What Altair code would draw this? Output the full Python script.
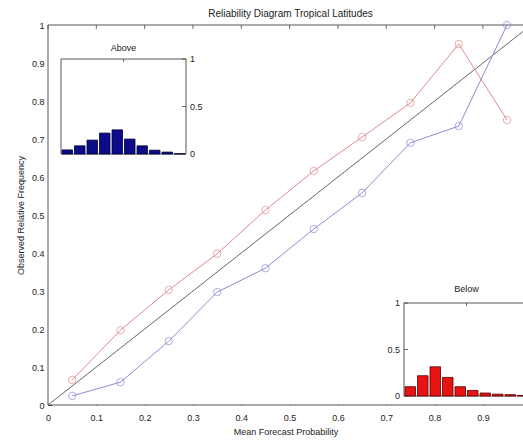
import altair as alt
import pandas as pd

# ---- data ----
bin_centers = [0.05, 0.15, 0.25, 0.35, 0.45, 0.55, 0.65, 0.75, 0.85, 0.95]
red_obs = [0.066, 0.197, 0.303, 0.398, 0.513, 0.616, 0.705, 0.795, 0.950, 0.750]
blue_obs = [0.024, 0.060, 0.168, 0.297, 0.360, 0.463, 0.558, 0.690, 0.734, 1.000]
above_freq = [0.043, 0.086, 0.146, 0.220, 0.254, 0.157, 0.086, 0.040, 0.020, 0.003]
below_freq = [0.100, 0.218, 0.314, 0.200, 0.100, 0.060, 0.032, 0.020, 0.015, 0.006]
x_ticks = [0, 0.1, 0.2, 0.3, 0.4, 0.5, 0.6, 0.7, 0.8, 0.9]
y_ticks = [0, 0.1, 0.2, 0.3, 0.4, 0.5, 0.6, 0.7, 0.8, 0.9, 1]
inset_ticks = [0, 0.5, 1]
inset_tick_labels = ["0", "0.5", "1"]
diag_x = [0, 1]
diag_y = [0, 1]

FONT = "Liberation Sans"
W, H = 475, 380
XMAX = 0.983
TICK = "#333"


def mscale_x():
    return alt.Scale(domain=[0, XMAX], nice=False, zero=False)


def mscale_y():
    return alt.Scale(domain=[0, 1], nice=False, zero=False)


lines_df = pd.DataFrame({
    "p": bin_centers * 2,
    "obs": red_obs + blue_obs,
    "series": ["red"] * 10 + ["blue"] * 10,
})
diag_df = pd.DataFrame({"p": diag_x, "obs": diag_y})
frame_df = pd.DataFrame({"x0": [0], "x1": [1], "y0": [0], "y1": [1]})

x_axis = alt.Axis(values=x_ticks, title="Mean Forecast Probability", domain=False,
                  offset=-4, tickSize=4, tickColor=TICK, labelPadding=8,
                  titlePadding=5, grid=False, format=".1~f", labelFlush=False,
                  labelOverlap=False)
y_axis = alt.Axis(values=y_ticks, title="Observed Relative Frequency", domain=False,
                  offset=-4, tickSize=4, tickColor=TICK, labelPadding=4,
                  titlePadding=6, grid=False, format=".1~f", labelFlush=False,
                  labelOverlap=False)

frame = alt.Chart(frame_df).mark_rect(fill="white", stroke="#555", strokeWidth=1).encode(
    x=alt.X("x0:Q", scale=mscale_x(), axis=x_axis), x2="x1:Q",
    y=alt.Y("y0:Q", scale=mscale_y(), axis=y_axis), y2="y1:Q",
)
diag = alt.Chart(diag_df).mark_line(color="#555", strokeWidth=0.9).encode(
    x=alt.X("p:Q", scale=mscale_x(), axis=None), y=alt.Y("obs:Q", scale=mscale_y(), axis=None)
)
color_scale = alt.Scale(domain=["red", "blue"], range=["#e08c8c", "#8c8cd8"])
series_lines = alt.Chart(lines_df).mark_line(strokeWidth=1).encode(
    x=alt.X("p:Q", scale=mscale_x(), axis=None), y=alt.Y("obs:Q", scale=mscale_y(), axis=None),
    color=alt.Color("series:N", scale=color_scale, legend=None),
)
series_pts = alt.Chart(lines_df).mark_point(size=55, strokeWidth=1, filled=False).encode(
    x=alt.X("p:Q", scale=mscale_x(), axis=None), y=alt.Y("obs:Q", scale=mscale_y(), axis=None),
    color=alt.Color("series:N", scale=color_scale, legend=None),
)

# top ticks (mirror of the bottom axis, pointing inward)
top_df = pd.DataFrame({"x": x_ticks, "y": [1] * len(x_ticks)})
top_ticks = alt.Chart(top_df).mark_tick(orient="vertical", size=4, thickness=1, color=TICK,
                                        yOffset=2).encode(
    x=alt.X("x:Q", scale=mscale_x(), axis=None),
    y=alt.Y("y:Q", scale=mscale_y(), axis=None),
)


def inset(freq, xr, yr, color, edge, title, side, tdy):
    df = pd.DataFrame({
        "lo": [c - 0.042 for c in bin_centers],
        "hi": [c + 0.042 for c in bin_centers],
        "freq": freq,
        "base": [0] * len(freq),
    })

    def sx():
        return alt.Scale(domain=[0, 1], range=xr, nice=False, zero=False)

    def sy():
        return alt.Scale(domain=[0, 1], range=yr, nice=False, zero=False)

    box = alt.Chart(frame_df).mark_rect(fill="white", stroke="#555", strokeWidth=1).encode(
        x=alt.X("x0:Q", scale=sx(), axis=None), x2="x1:Q",
        y=alt.Y("y0:Q", scale=sy(), axis=None), y2="y1:Q",
    )
    bars = alt.Chart(df).mark_rect(color=color, stroke=edge, strokeWidth=0.8).encode(
        x=alt.X("lo:Q", scale=sx(), axis=None), x2="hi:Q",
        y=alt.Y("freq:Q", scale=sy(), axis=None), y2="base:Q",
    )
    ttl = alt.Chart(pd.DataFrame({"x": [0.5], "y": [1], "t": [title]})).mark_text(
        font=FONT, fontSize=9, color="#222", baseline="bottom", dy=tdy
    ).encode(x=alt.X("x:Q", scale=sx(), axis=None), y=alt.Y("y:Q", scale=sy(), axis=None),
             text="t:N")
    edge_x = 1 if side == "right" else 0
    sgn = 1 if side == "right" else -1
    tdf = pd.DataFrame({"x": [edge_x] * 3, "y": inset_ticks, "lab": inset_tick_labels})
    ticks = alt.Chart(tdf).mark_tick(orient="horizontal", size=4, thickness=1, color=TICK,
                                     xOffset=-2 * sgn).encode(
        x=alt.X("x:Q", scale=sx(), axis=None), y=alt.Y("y:Q", scale=sy(), axis=None)
    )
    top_mid = alt.Chart(pd.DataFrame({"x": [0.5], "y": [1]})).mark_tick(
        orient="vertical", size=3, thickness=1, color=TICK, yOffset=1.5
    ).encode(x=alt.X("x:Q", scale=sx(), axis=None), y=alt.Y("y:Q", scale=sy(), axis=None))
    labels = alt.Chart(tdf).mark_text(font=FONT, fontSize=9, color="#222",
                                      align="left" if side == "right" else "right",
                                      baseline="middle", dx=4 * sgn).encode(
        x=alt.X("x:Q", scale=sx(), axis=None), y=alt.Y("y:Q", scale=sy(), axis=None),
        text="lab:N",
    )
    return [box, bars, ttl, ticks, top_mid, labels]


above = inset(above_freq, [13, 138], [129, 34], "#0c0c8a", "#000033", "Above", "right", -6)
below = inset(below_freq, [356, 481], [371, 278], "#e81414", "#550000", "Below", "left", -9)

layers = [frame, diag, series_lines, series_pts, top_ticks] + above + below

chart = alt.layer(*layers).resolve_scale(
    x="independent", y="independent"
).properties(
    width=W, height=H,
    title=alt.TitleParams("Reliability Diagram Tropical Latitudes", font=FONT, fontSize=10,
                          fontWeight="normal", color="#222", offset=0, dx=5, frame="group"),
    autosize=alt.AutoSizeParams(type="none"),
    padding={"left": 48, "top": 25, "right": 0, "bottom": 36},
).configure_view(stroke=None).configure_axis(
    labelFont=FONT, titleFont=FONT, labelFontSize=9, titleFontSize=9,
    labelColor="#222", titleColor="#222", titleFontWeight="normal"
)

chart.save("out.html", embed_options={"renderer": "svg", "actions": False})
